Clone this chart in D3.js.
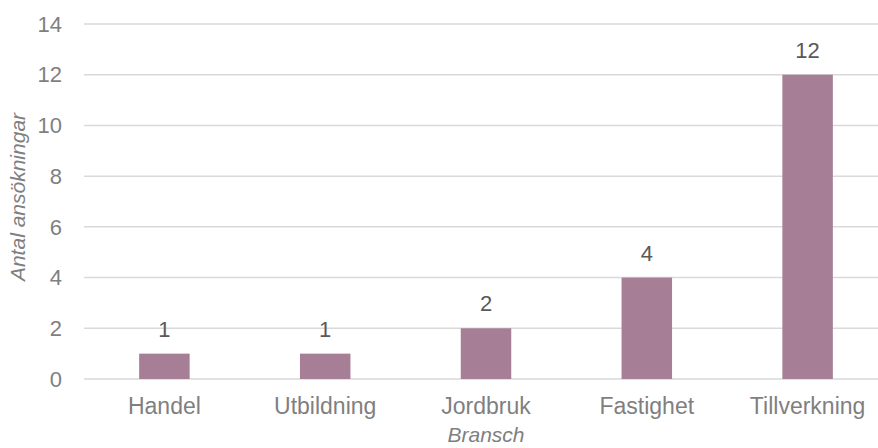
<!DOCTYPE html>
<html>
<head>
<meta charset="utf-8">
<script src="https://cdn.jsdelivr.net/npm/d3@7"></script>
<style>
  body { margin: 0; background: #fff; }
  svg text { font-family: "Liberation Sans", Arial, sans-serif; fill: #7f7f7f; }
</style>
</head>
<body>
<div id="chart"></div>
<script>
// data
const categories = ['Handel', 'Utbildning', 'Jordbruk', 'Fastighet', 'Tillverkning']
const counts = [1, 1, 2, 4, 12]
const yTicks = [0, 2, 4, 6, 8, 10, 12, 14]

const W = 878
const H = 448
const margin = { left: 84, top: 24, right: -10, bottom: 69 }

const svg = d3.select('#chart')
  .append('svg')
  .attr('width', W)
  .attr('height', H)

const x = d3.scaleBand()
  .domain(categories)
  .range([margin.left, W - margin.right])
  .paddingInner(0.686)
  .paddingOuter(0.343)

const y = d3.scaleLinear()
  .domain([0, 14])
  .range([H - margin.bottom, margin.top])

// gridlines
svg.append('g')
  .selectAll('line')
  .data(yTicks)
  .enter()
  .append('line')
  .attr('x1', margin.left)
  .attr('x2', W)
  .attr('y1', d => y(d))
  .attr('y2', d => y(d))
  .attr('stroke', '#d9d9d9')
  .attr('stroke-width', 1.5)

// y tick labels
svg.append('g')
  .selectAll('text')
  .data(yTicks)
  .enter()
  .append('text')
  .attr('x', 62)
  .attr('y', d => y(d))
  .attr('dy', '0.35em')
  .attr('text-anchor', 'end')
  .style('font-size', '22px')
  .text(d => d)

// bars
svg.append('g')
  .selectAll('rect')
  .data(counts)
  .enter()
  .append('rect')
  .attr('x', (d, i) => x(categories[i]))
  .attr('y', d => y(d))
  .attr('width', x.bandwidth())
  .attr('height', d => y(0) - y(d))
  .attr('fill', '#a67f97')

// value labels
svg.append('g')
  .selectAll('text')
  .data(counts)
  .enter()
  .append('text')
  .attr('x', (d, i) => x(categories[i]) + x.bandwidth() / 2)
  .attr('y', d => y(d) - 17)
  .attr('text-anchor', 'middle')
  .style('font-size', '22px')
  .style('fill', '#595959')
  .text(d => d)

// category labels
svg.append('g')
  .selectAll('text')
  .data(categories)
  .enter()
  .append('text')
  .attr('x', d => x(d) + x.bandwidth() / 2)
  .attr('y', 414)
  .attr('text-anchor', 'middle')
  .style('font-size', '23px')
  .text(d => d)

// axis titles
svg.append('text')
  .attr('x', 486)
  .attr('y', 442)
  .attr('text-anchor', 'middle')
  .style('font-size', '21px')
  .style('font-style', 'italic')
  .text('Bransch')

svg.append('text')
  .attr('transform', 'translate(25,197) rotate(-90)')
  .attr('text-anchor', 'middle')
  .style('font-size', '21px')
  .style('font-style', 'italic')
  .text('Antal ansökningar')
</script>
</body>
</html>
